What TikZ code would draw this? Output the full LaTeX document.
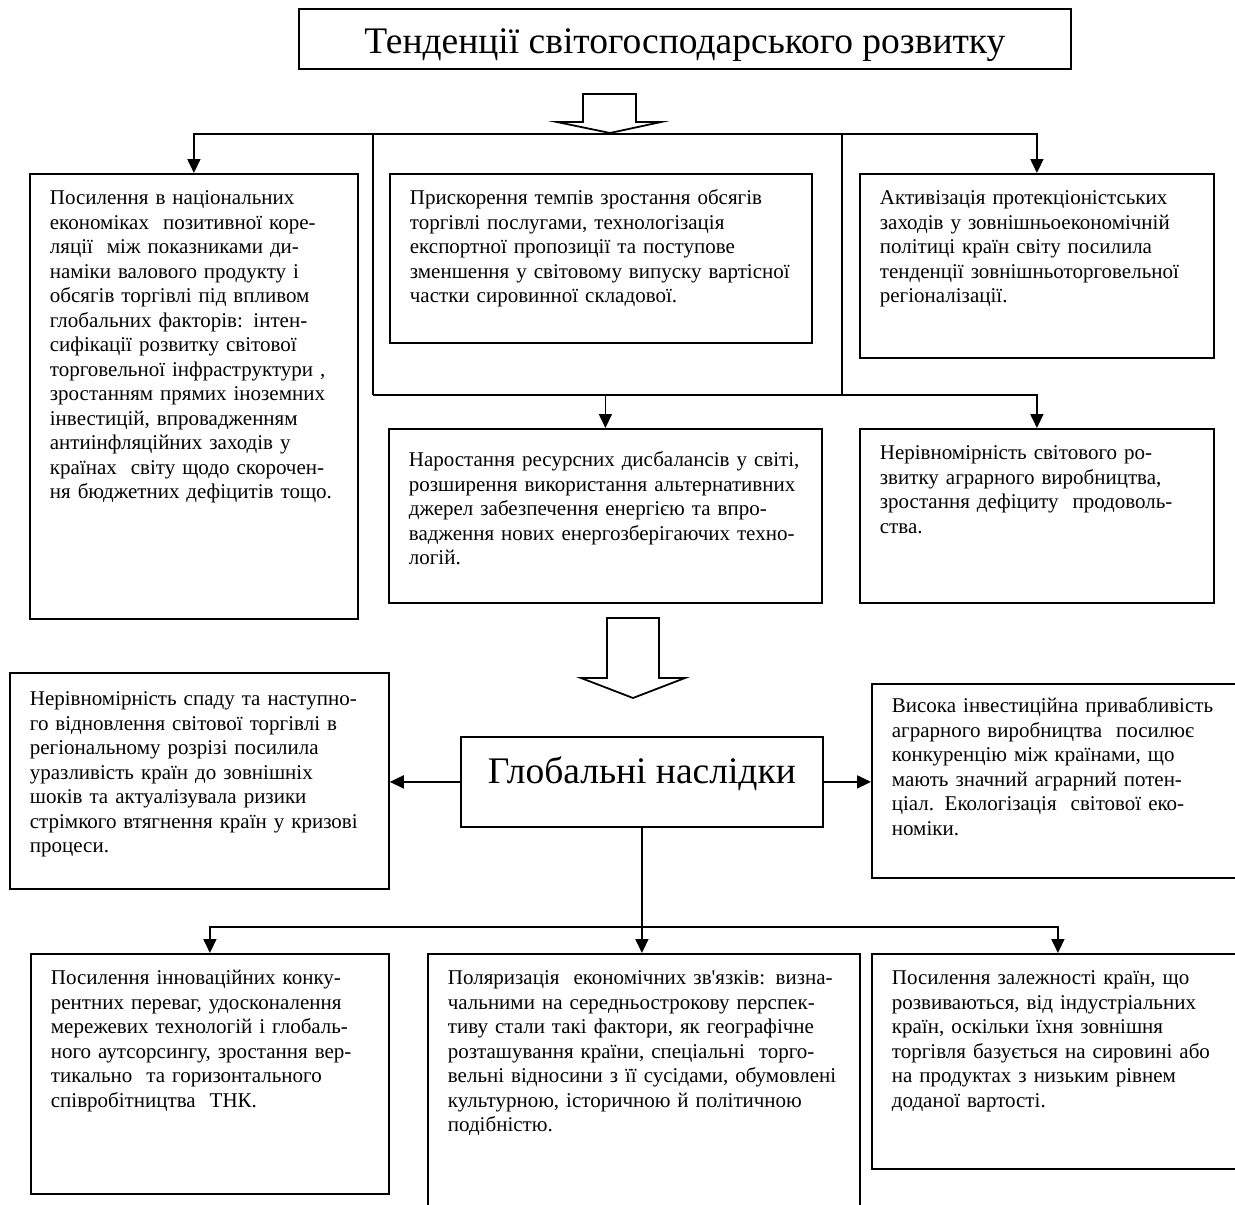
\documentclass[tikz,border=0pt]{standalone}
\usepackage{fontspec}
\setmainfont{Liberation Serif}
\usetikzlibrary{arrows.meta,positioning}
\newlength{\lw}
\setlength{\lw}{1.8pt}
\tikzstyle{every picture}+=[>={Triangle[length=14pt,width=13pt]}]
\tikzstyle{every picture}+=[x=1pt,y=-1pt]
\tikzstyle{every picture}+=[line width=\lw]
\tikzstyle{every picture}+=[join=miter]
\tikzstyle{box}=[draw, anchor=north west, inner xsep=20pt, inner ysep=0pt]
\tikzstyle{box}+=[align=left, text height=31pt]
\tikzstyle{box}+=[font=\fontsize{21}{24.5}\selectfont]
\tikzstyle{head}=[draw, anchor=north west, inner sep=0pt]
\tikzstyle{head}+=[font=\fontsize{37.5}{40}\selectfont]
\tikzstyle{hollow}=[draw, fill=white]

\begin{document}
\begin{tikzpicture}
\useasboundingbox (0,0) rectangle (1235,1205);
\clip (0,0) rectangle (1235,1205);

\node[head, minimum width=772pt, minimum height=60pt, text height=30pt, text depth=0pt] (tnd) at (298,8)
  {Тенденції світогосподарського розвитку};

% upper row
\node[box, text width=288pt, text depth=414pt] (lb) at (29,173)
  {Посилення в національних\\
   економіках\ \ позитивної коре-\\
   ляції\ \ між показниками ди-\\
   наміки валового продукту і\\
   обсягів торгівлі під впливом\\
   глобальних факторів: інтен-\\
   сифікації розвитку світової\\
   торговельної інфраструктури ,\\
   зростанням прямих іноземних\\
   інвестицій, впровадженням\\
   антиінфляційних заходів у\\
   країнах\ \ світу щодо скорочен-\\
   ня бюджетних дефіцитів тощо.};
\node[box, text width=382pt, text depth=138pt] (svc) at (389,173)
  {Прискорення темпів зростання обсягів\\
   торгівлі послугами, технологізація\\
   експортної пропозиції та поступове\\
   зменшення у світовому випуску вартісної\\
   частки сировинної складової.};
\node[box, text width=314pt, text depth=153pt] (prot) at (859,173)
  {Активізація протекціоністських\\
   заходів у зовнішньоекономічній\\
   політиці країн світу посилила\\
   тенденції зовнішньоторговельної\\
   регіоналізації.};
\node[box, text width=393pt, text height=38pt, text depth=136pt] (res) at (388,428)
  {Наростання ресурсних дисбалансів у світі,\\
   розширення використання альтернативних\\
   джерел забезпечення енергією та впро-\\
   вадження нових енергозберігаючих техно-\\
   логій.};
\node[box, text width=314pt, text depth=143pt] (agr) at (859,428)
  {Нерівномірність світового ро-\\
   звитку аграрного виробництва,\\
   зростання дефіциту\ \ продоволь-\\
   ства.};

% block arrows
\draw[hollow] (583,94) -- (583,122) -- (557,122) -- (610,133) -- (661,122)
  -- (636,122) -- (636,94) -- cycle;
\draw[hollow] (607,618) -- (607,678) -- (581,678) -- (633,698) -- (685,678)
  -- (659,678) -- (659,618) -- cycle;

% middle row
\node[head, minimum width=362pt, minimum height=90pt, text height=28pt, text depth=25pt] (glob) at (460,736)
  {Глобальні наслідки};
\node[box, text width=339pt, text height=33pt, text depth=183pt] (fall) at (9,672)
  {Нерівномірність спаду та наступно-\\
   го відновлення світової торгівлі в\\
   регіональному розрізі посилила\\
   уразливість країн до зовнішніх\\
   шоків та актуалізувала ризики\\
   стрімкого втягнення країн у кризові\\
   процеси.};
\node[box, text width=332pt, text height=29pt, text depth=165pt] (inv) at (871,683)
  {Висока інвестиційна привабливість\\
   аграрного виробництва\ \ посилює\\
   конкуренцію між країнами, що\\
   мають значний аграрний потен-\\
   ціал. Екологізація\ \ світової еко-\\
   номіки.};

% lower row
\node[box, text width=318pt, text depth=209pt] (inn) at (30,953)
  {Посилення інноваційних конку-\\
   рентних переваг, удосконалення\\
   мережевих технологій і глобаль-\\
   ного аутсорсингу, зростання вер-\\
   тикально\ \ та горизонтального\\
   співробітництва\ \ ТНК.};
\node[box, text width=392pt, text depth=261pt] (pol) at (427,953)
  {Поляризація\ \ економічних зв\textquotesingle язків: визна-\\
   чальними на середньострокову перспек-\\
   тиву стали такі фактори, як географічне\\
   розташування країни, спеціальні\ \ торго-\\
   вельні відносини з її сусідами, обумовлені\\
   культурною, історичною й політичною\\
   подібністю.};
\node[box, text width=332pt, text depth=184pt] (dep) at (871,953)
  {Посилення залежності країн, що\\
   розвиваються, від індустріальних\\
   країн, оскільки їхня зовнішня\\
   торгівля базується на сировині або\\
   на продуктах з низьким рівнем\\
   доданої вартості.};

% connectors
\coordinate (b1) at (610,134);
\coordinate (v1) at (373,134);
\coordinate (v2) at (842,134);
\coordinate (b2) at (373,395);
\coordinate (b3) at (641,927);
\draw[->] (b1) -| (lb.north);
\draw[->] (b1) -| (prot.north);
\draw (v1) -- (b2);
\draw (v2) -- (v2 |- b2);
\draw[->] (b2) -| (res.north);
\draw[->] (b2) -| (agr.north);

\draw[->] (glob.west) -- (glob.west -| fall.east);
\draw[->] (glob.east) -- (glob.east -| inv.west);
\draw[->] (glob.south) -- (glob.south |- pol.north);
\draw[->] (b3) -| (inn.north);
\draw[->] (b3) -| (dep.north);
\end{tikzpicture}
\end{document}
